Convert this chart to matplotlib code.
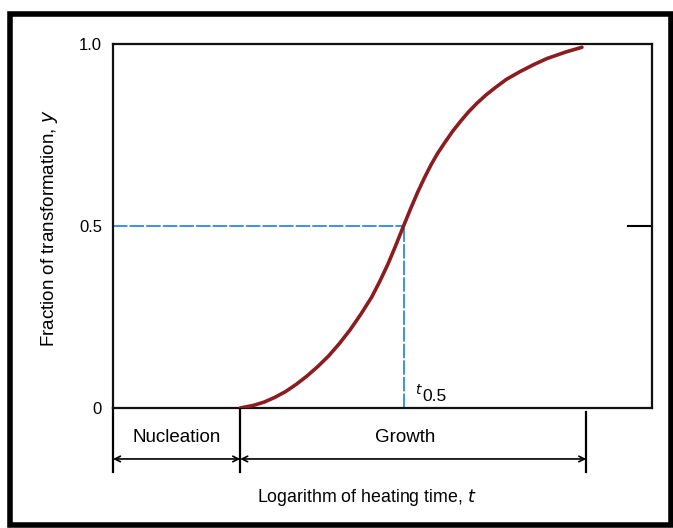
import matplotlib
matplotlib.use("Agg")
import matplotlib.pyplot as plt
from matplotlib.patches import Rectangle

# Curve: log of heating time (arbitrary units) vs fraction y
log_time = [2.36, 2.6, 2.8, 3.0, 3.2, 3.4, 3.6, 3.8, 4.0, 4.2, 4.4, 4.6, 4.8,
            4.95, 5.1, 5.25, 5.39, 5.52, 5.65, 5.78, 5.9, 6.02, 6.15, 6.3,
            6.45, 6.6, 6.75, 6.92, 7.1, 7.3, 7.55, 7.8, 8.05, 8.4, 8.70]
fraction = [0.0, 0.007, 0.016, 0.029, 0.045, 0.065, 0.088, 0.114, 0.143,
            0.177, 0.215, 0.258, 0.305, 0.348, 0.395, 0.448, 0.500, 0.547,
            0.592, 0.633, 0.668, 0.699, 0.728, 0.760, 0.788, 0.814, 0.837,
            0.860, 0.881, 0.903, 0.924, 0.943, 0.960, 0.978, 0.991]

t_half = 5.39
nucleation_end = 2.36
growth_end = 8.78
y_ticks = [0, 0.5, 1.0]
y_tick_labels = ["0", "0.5", "1.0"]

plt.rcParams["font.family"] = ["Liberation Sans", "DejaVu Sans"]

fig = plt.figure(figsize=(6.73, 5.28), dpi=100)
ax = fig.add_axes([113 / 673, 1 - 408 / 528, 539 / 673, 364 / 528])

# Curve
ax.plot(log_time, fraction, color="#8b1c1f", linewidth=2.6,
        solid_capstyle="round", solid_joinstyle="round", zorder=3)

# Dashed guide lines at y = 0.5
ax.plot([0, t_half], [0.5, 0.5], color="#2e8ae0", linewidth=1.3,
        linestyle=(0, (8, 1.2)), zorder=2)
ax.plot([t_half, t_half], [0, 0.5], color="#2e8ae0", linewidth=1.3,
        linestyle=(0, (8, 1.2)), zorder=2)
ax.text(5.60, 0.03, r"$t$", fontsize=10, va="bottom", ha="left")
ax.text(5.74, 0.019, "0.5", fontsize=12.5, va="baseline", ha="left")

# Small tick on right spine
ax.plot([9.55, 10], [0.5, 0.5], color="black", linewidth=1.5, clip_on=False)

ax.set_xlim(0, 10)
ax.set_ylim(0, 1)
ax.set_xticks([])
ax.set_yticks(y_ticks)
ax.set_yticklabels(y_tick_labels, fontsize=12)
ax.tick_params(axis="y", length=0, pad=8)
for s in ax.spines.values():
    s.set_linewidth(1.6)
    s.set_color("#111111")

# Nucleation / Growth brackets below axis
ax.plot([0, 0], [0, -0.176], color="black", linewidth=1.6, clip_on=False)
ax.plot([nucleation_end, nucleation_end], [-0.005, -0.176], color="black",
        linewidth=1.6, clip_on=False)
ax.plot([growth_end, growth_end], [-0.011, -0.176], color="black",
        linewidth=1.6, clip_on=False)

arrow = dict(arrowstyle="<->", color="black", linewidth=1.2,
             shrinkA=0, shrinkB=0, mutation_scale=10)
ax.annotate("", xy=(0, -0.14), xytext=(nucleation_end, -0.14),
            arrowprops=arrow, annotation_clip=False)
ax.annotate("", xy=(nucleation_end, -0.14), xytext=(growth_end, -0.14),
            arrowprops=arrow, annotation_clip=False)

ax.text(nucleation_end / 2, -0.08, "Nucleation", fontsize=13.5,
        ha="center", va="center", clip_on=False)
ax.text(5.42, -0.08, "Growth", fontsize=13.5, ha="center", va="center",
        clip_on=False)

# Axis labels
fig.text(367 / 673, 1 - 497 / 528, r"Logarithm of heating time, $t$",
         fontsize=12.8, ha="center", va="center")
fig.text(50 / 673, 1 - 228 / 528, r"Fraction of transformation, $y$",
         fontsize=13.5, ha="center", va="center", rotation=90)

# Outer black border
fig.patches.append(Rectangle((10 / 673, 1 - 525 / 528), 661 / 673, 511 / 528,
                             transform=fig.transFigure, fill=False,
                             edgecolor="black", linewidth=4))

fig.savefig("out.png", dpi=100)
